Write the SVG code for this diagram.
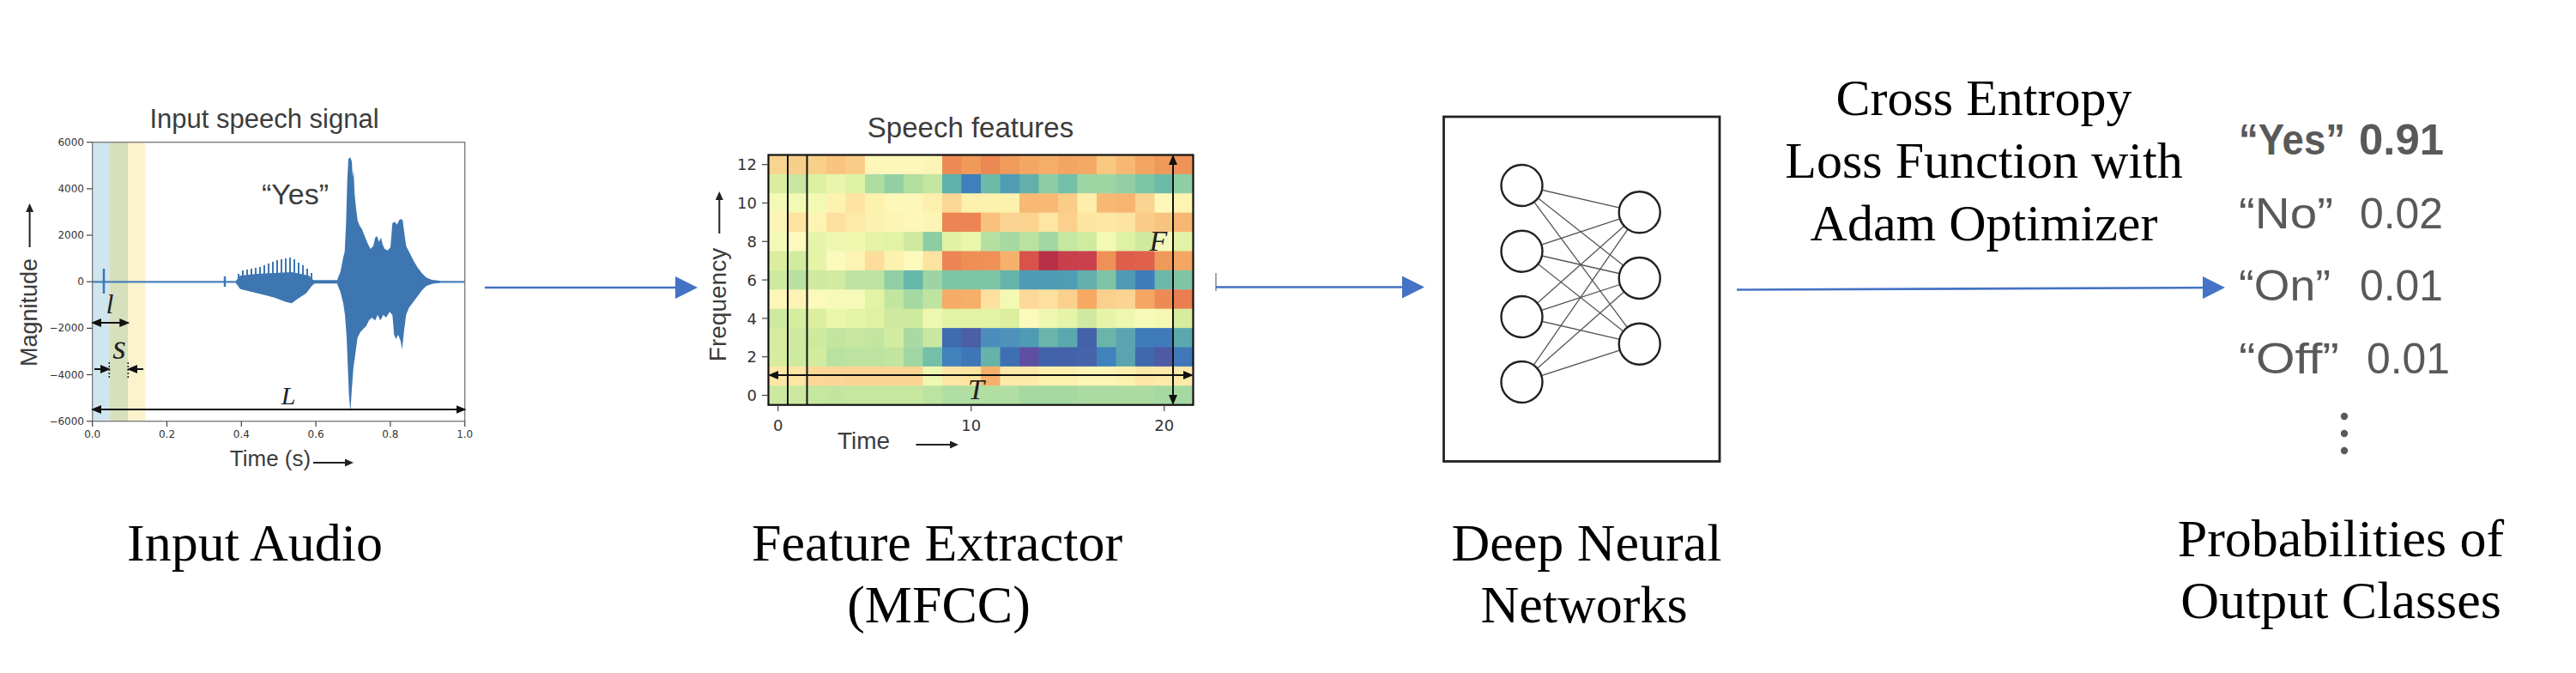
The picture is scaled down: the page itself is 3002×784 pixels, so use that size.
<svg xmlns="http://www.w3.org/2000/svg" width="3002" height="784" viewBox="0 0 3002 784">
<style>
.sans{font-family:"Liberation Sans",Arial,sans-serif;fill:#3c3c3c}
.tick{font-family:"DejaVu Sans",sans-serif;fill:#333}
.serif{font-family:"Liberation Serif","Times New Roman",serif;fill:#000}
.it{font-family:"Liberation Serif","Times New Roman",serif;font-style:italic;fill:#222}
.conn{stroke:#4472c4;stroke-width:2.6;fill:none}
.dim{stroke:#111;stroke-width:2;fill:none}
.axarrow{stroke:#222;stroke-width:2;fill:none}
.tk{stroke:#444;stroke-width:1.2}
.neuron{fill:#fff;stroke:#222;stroke-width:2.4}
.edge{stroke:#555;stroke-width:1.3}
.out{font-family:"Liberation Sans",Arial,sans-serif;font-size:50px;fill:#595959}
.label{font-family:"Liberation Serif","Times New Roman",serif;font-size:62px;fill:#000;text-anchor:middle}
</style>
<defs>
<marker id="blueHead" viewBox="0 0 26 26" markerUnits="userSpaceOnUse" markerWidth="26" markerHeight="26" refX="21" refY="13" orient="auto"><path d="M0,0 L26,13 L0,26 z" fill="#4472c4"/></marker>
<marker id="blackHead" viewBox="0 0 12 10" markerUnits="userSpaceOnUse" markerWidth="12" markerHeight="10" refX="10" refY="5" orient="auto-start-reverse"><path d="M0,0 L12,5 L0,10 z" fill="#111"/></marker>
<marker id="axHead" viewBox="0 0 10 9" markerUnits="userSpaceOnUse" markerWidth="10" markerHeight="9" refX="8" refY="4.5" orient="auto"><path d="M0,0 L10,4.5 L0,9 z" fill="#222"/></marker>
<clipPath id="hmClip"><rect x="895.5" y="180.5" width="495" height="291.2"/></clipPath>
</defs>
<rect width="3002" height="784" fill="#fff"/>

<g id="input-audio">
  <text class="sans" x="308" y="149" font-size="31" text-anchor="middle">Input speech signal</text>
  <rect x="107.7" y="165.7" width="19.6" height="325" fill="#cfe6ef"/>
  <rect x="127.3" y="165.7" width="22" height="325" fill="#d7dfbc"/>
  <rect x="149.3" y="165.7" width="20" height="325" fill="#fcf2cc"/>
  <g fill="#3d76b0" stroke="none">
    <line x1="107.7" y1="328.3" x2="541.7" y2="328.3" stroke="#4a80b8" stroke-width="2.2"/>
    <line x1="365" y1="328.3" x2="395" y2="328.3" stroke="#3d76b0" stroke-width="4"/>
    <line x1="121" y1="313" x2="121" y2="342" stroke="#3d76b0" stroke-width="2.5"/>
    <line x1="262" y1="322" x2="262" y2="334" stroke="#3d76b0" stroke-width="2.5"/>
    <polygon points="275,327 280,321 300,319 340,317 360,321 366,327 366.7,330 363.3,333.3 356.7,341.7 346.7,348.3 340,353.3 333.3,351.7 320,346.7 306.7,343.3 293.3,340 280,336.7 275,330"/>
    <path stroke="#3d76b0" stroke-width="2" d="M278,328V319 M283,328V315 M288,328V314 M293,328V313 M298,328V312 M303,328V311 M308,328V309 M313,328V307 M318,328V305 M323,328V303 M328,328V302 M333,328V301 M338,328V300 M343,328V302 M348,328V306 M353,328V309 M358,328V313 M363,328V318"/>
    <polygon points="393.3,325 396.7,316.7 400,300 401.7,293.3 403.3,260 404.7,210 406,185 408.3,183.3 410,188.3 411,206.7 412,198.3 413.3,226.7 415,243.3 416.7,256.7 419.3,263.3 421.7,266.7 425,275 428.3,283.3 431.7,290 435,286.7 437.3,276.7 439.3,275 441.7,281.7 444,276.7 446,285 448.3,290 451.7,291.7 455,288.3 457.3,260 460,258.3 462.7,261.7 465,256.7 467.3,255 469.3,256.7 471,270 473.3,286.7 476.7,293.3 481.7,303.3 486.7,311.7 491.7,318.3 496.7,323.3 503.3,326 513.3,327.3 513.3,329.3 503.3,330.7 496.7,333.3 491.7,338.3 486.7,345 481.7,351.7 476.7,358.3 473.3,366.7 470.7,386.7 468.7,406.7 466.7,396.7 464,390 461.3,395 459.3,390 457.3,366.7 454,363.3 450,370 446.7,366.7 443.3,373.3 440,366.7 437.3,373.3 433.3,370 430,373.3 426.7,380 423.3,383.3 420,386.7 416.7,393.3 414,413.3 412,426.7 410,453.3 408.3,480 406.7,460 405.3,426.7 404,393.3 402,366.7 400,353.3 396.7,340 393.3,331.7"/>
  </g>
  <rect x="107.7" y="165.7" width="434" height="325" fill="none" stroke="#777" stroke-width="1.3"/>
  <g class="tk">
    <line x1="101" y1="165.7" x2="107.7" y2="165.7"/><line x1="101" y1="219.9" x2="107.7" y2="219.9"/><line x1="101" y1="274" x2="107.7" y2="274"/><line x1="101" y1="328.2" x2="107.7" y2="328.2"/><line x1="101" y1="382.4" x2="107.7" y2="382.4"/><line x1="101" y1="436.5" x2="107.7" y2="436.5"/><line x1="101" y1="490.7" x2="107.7" y2="490.7"/>
    <line x1="107.7" y1="490.7" x2="107.7" y2="497"/><line x1="194.5" y1="490.7" x2="194.5" y2="497"/><line x1="281.3" y1="490.7" x2="281.3" y2="497"/><line x1="368.1" y1="490.7" x2="368.1" y2="497"/><line x1="454.9" y1="490.7" x2="454.9" y2="497"/><line x1="541.7" y1="490.7" x2="541.7" y2="497"/>
  </g>
  <g class="tick" font-size="12" text-anchor="end">
    <text x="98" y="170">6000</text><text x="98" y="224">4000</text><text x="98" y="278">2000</text><text x="98" y="332">0</text><text x="98" y="386">−2000</text><text x="98" y="441">−4000</text><text x="98" y="495">−6000</text>
  </g>
  <g class="tick" font-size="12" text-anchor="middle">
    <text x="107.7" y="510">0.0</text><text x="194.5" y="510">0.2</text><text x="281.3" y="510">0.4</text><text x="368.1" y="510">0.6</text><text x="454.9" y="510">0.8</text><text x="541.7" y="510">1.0</text>
  </g>
  <text class="sans" transform="translate(43,364) rotate(-90)" font-size="27" text-anchor="middle">Magnitude</text>
  <line class="axarrow" x1="34.6" y1="288" x2="34.6" y2="239" marker-end="url(#axHead)"/>
  <text class="sans" x="315" y="543" font-size="26" text-anchor="middle">Time (s)</text>
  <line class="axarrow" x1="365" y1="539" x2="410" y2="539" marker-end="url(#axHead)"/>
  <text class="sans" x="344" y="238" font-size="34" fill="#333" text-anchor="middle">“Yes”</text>
  <text class="it" x="128" y="365" font-size="32" text-anchor="middle">l</text>
  <line class="dim" x1="108" y1="376" x2="149.3" y2="376" marker-start="url(#blackHead)" marker-end="url(#blackHead)"/>
  <text class="it" x="139" y="418" font-size="40" text-anchor="middle">s</text>
  <line class="dim" x1="110" y1="430" x2="127" y2="430" marker-end="url(#blackHead)"/>
  <line class="dim" x1="167" y1="430" x2="150" y2="430" marker-end="url(#blackHead)"/>
  <line x1="127.3" y1="422" x2="127.3" y2="440" stroke="#222" stroke-width="1.5" stroke-dasharray="2,2"/>
  <line x1="149.3" y1="422" x2="149.3" y2="440" stroke="#222" stroke-width="1.5" stroke-dasharray="2,2"/>
  <text class="it" x="336" y="471" font-size="30" text-anchor="middle">L</text>
  <line class="dim" x1="108" y1="477" x2="541.5" y2="477" marker-start="url(#blackHead)" marker-end="url(#blackHead)"/>
  <text class="label" x="297" y="653">Input Audio</text>
</g>

<g id="feature-extractor">
  <text class="sans" x="1131" y="160" font-size="33" text-anchor="middle">Speech features</text>
  <g clip-path="url(#hmClip)">
   <g transform="translate(0,180.5)"><rect x="895.5" width="23" height="22.9" fill="#f9d48f"/><rect x="918" width="23" height="22.9" fill="#f8cf88"/><rect x="940.5" width="23" height="22.9" fill="#f9d08a"/><rect x="963" width="23" height="22.9" fill="#f8c47e"/><rect x="985.5" width="23" height="22.9" fill="#f9cd88"/><rect x="1008" width="23" height="22.9" fill="#fdf6b8"/><rect x="1030.5" width="23" height="22.9" fill="#fdf7ba"/><rect x="1053" width="23" height="22.9" fill="#fdf7ba"/><rect x="1075.5" width="23" height="22.9" fill="#fdf5b5"/><rect x="1098" width="23" height="22.9" fill="#ee8b55"/><rect x="1120.5" width="23" height="22.9" fill="#f09a5a"/><rect x="1143" width="23" height="22.9" fill="#ec8853"/><rect x="1165.5" width="23" height="22.9" fill="#f09b5c"/><rect x="1188" width="23" height="22.9" fill="#f4a762"/><rect x="1210.5" width="23" height="22.9" fill="#f5ad67"/><rect x="1233" width="23" height="22.9" fill="#f3a662"/><rect x="1255.5" width="23" height="22.9" fill="#f4a964"/><rect x="1278" width="23" height="22.9" fill="#f9c981"/><rect x="1300.5" width="23" height="22.9" fill="#f7b872"/><rect x="1323" width="23" height="22.9" fill="#f3a562"/><rect x="1345.5" width="23" height="22.9" fill="#f09a5a"/><rect x="1368" width="23" height="22.9" fill="#ef935a"/></g>
   <g transform="translate(0,202.9)"><rect x="895.5" width="23" height="22.9" fill="#dbeea0"/><rect x="918" width="23" height="22.9" fill="#c8e6a0"/><rect x="940.5" width="23" height="22.9" fill="#dcf0a2"/><rect x="963" width="23" height="22.9" fill="#e9f5ad"/><rect x="985.5" width="23" height="22.9" fill="#e0f2a6"/><rect x="1008" width="23" height="22.9" fill="#aedda2"/><rect x="1030.5" width="23" height="22.9" fill="#92d0a4"/><rect x="1053" width="23" height="22.9" fill="#b3dfa1"/><rect x="1075.5" width="23" height="22.9" fill="#c4e6a0"/><rect x="1098" width="23" height="22.9" fill="#5fb1ab"/><rect x="1120.5" width="23" height="22.9" fill="#3f7fbb"/><rect x="1143" width="23" height="22.9" fill="#6cbaa8"/><rect x="1165.5" width="23" height="22.9" fill="#4f9db5"/><rect x="1188" width="23" height="22.9" fill="#62afab"/><rect x="1210.5" width="23" height="22.9" fill="#8ccda4"/><rect x="1233" width="23" height="22.9" fill="#74bfa7"/><rect x="1255.5" width="23" height="22.9" fill="#9ed6a3"/><rect x="1278" width="23" height="22.9" fill="#9ed6a3"/><rect x="1300.5" width="23" height="22.9" fill="#92d0a4"/><rect x="1323" width="23" height="22.9" fill="#7ec5a5"/><rect x="1345.5" width="23" height="22.9" fill="#6cbaa8"/><rect x="1368" width="23" height="22.9" fill="#90cfa4"/></g>
   <g transform="translate(0,225.3)"><rect x="895.5" width="23" height="22.9" fill="#f4f9b5"/><rect x="918" width="23" height="22.9" fill="#f2f9b3"/><rect x="940.5" width="23" height="22.9" fill="#f3f9b3"/><rect x="963" width="23" height="22.9" fill="#fdf2b0"/><rect x="985.5" width="23" height="22.9" fill="#fde4a0"/><rect x="1008" width="23" height="22.9" fill="#fdf1ae"/><rect x="1030.5" width="23" height="22.9" fill="#fdf7ba"/><rect x="1053" width="23" height="22.9" fill="#fdf7ba"/><rect x="1075.5" width="23" height="22.9" fill="#fdf0ae"/><rect x="1098" width="23" height="22.9" fill="#fbd796"/><rect x="1120.5" width="23" height="22.9" fill="#fdf1ae"/><rect x="1143" width="23" height="22.9" fill="#fdf1ae"/><rect x="1165.5" width="23" height="22.9" fill="#fdf1ae"/><rect x="1188" width="23" height="22.9" fill="#f7b974"/><rect x="1210.5" width="23" height="22.9" fill="#f7b974"/><rect x="1233" width="23" height="22.9" fill="#f9cc87"/><rect x="1255.5" width="23" height="22.9" fill="#fdeeab"/><rect x="1278" width="23" height="22.9" fill="#f7b874"/><rect x="1300.5" width="23" height="22.9" fill="#f7b571"/><rect x="1323" width="23" height="22.9" fill="#fad390"/><rect x="1345.5" width="23" height="22.9" fill="#fdf7ba"/><rect x="1368" width="23" height="22.9" fill="#fdf3b3"/></g>
   <g transform="translate(0,247.7)"><rect x="895.5" width="23" height="22.9" fill="#fdf4b6"/><rect x="918" width="23" height="22.9" fill="#fde3a0"/><rect x="940.5" width="23" height="22.9" fill="#fdf3b3"/><rect x="963" width="23" height="22.9" fill="#fde0a0"/><rect x="985.5" width="23" height="22.9" fill="#fde9a8"/><rect x="1008" width="23" height="22.9" fill="#fdf1b2"/><rect x="1030.5" width="23" height="22.9" fill="#fdf5b5"/><rect x="1053" width="23" height="22.9" fill="#fdf7ba"/><rect x="1075.5" width="23" height="22.9" fill="#fdf5b5"/><rect x="1098" width="23" height="22.9" fill="#ec8553"/><rect x="1120.5" width="23" height="22.9" fill="#ec8553"/><rect x="1143" width="23" height="22.9" fill="#f8c17c"/><rect x="1165.5" width="23" height="22.9" fill="#fbd492"/><rect x="1188" width="23" height="22.9" fill="#fbd28e"/><rect x="1210.5" width="23" height="22.9" fill="#fde5a2"/><rect x="1233" width="23" height="22.9" fill="#fbd08d"/><rect x="1255.5" width="23" height="22.9" fill="#fde4a0"/><rect x="1278" width="23" height="22.9" fill="#fde7a4"/><rect x="1300.5" width="23" height="22.9" fill="#fde3a0"/><rect x="1323" width="23" height="22.9" fill="#f9cc88"/><rect x="1345.5" width="23" height="22.9" fill="#f8c480"/><rect x="1368" width="23" height="22.9" fill="#f7b673"/></g>
   <g transform="translate(0,270.1)"><rect x="895.5" width="23" height="22.9" fill="#f4f9b5"/><rect x="918" width="23" height="22.9" fill="#fbf9bb"/><rect x="940.5" width="23" height="22.9" fill="#e6f4a9"/><rect x="963" width="23" height="22.9" fill="#eef7b0"/><rect x="985.5" width="23" height="22.9" fill="#f0f8b0"/><rect x="1008" width="23" height="22.9" fill="#e6f4a9"/><rect x="1030.5" width="23" height="22.9" fill="#e2f3a5"/><rect x="1053" width="23" height="22.9" fill="#cfeaa0"/><rect x="1075.5" width="23" height="22.9" fill="#8ccda4"/><rect x="1098" width="23" height="22.9" fill="#e1f2a6"/><rect x="1120.5" width="23" height="22.9" fill="#eaf6ac"/><rect x="1143" width="23" height="22.9" fill="#b5e0a2"/><rect x="1165.5" width="23" height="22.9" fill="#a6d9a2"/><rect x="1188" width="23" height="22.9" fill="#b9e2a1"/><rect x="1210.5" width="23" height="22.9" fill="#a0d7a2"/><rect x="1233" width="23" height="22.9" fill="#c5e7a0"/><rect x="1255.5" width="23" height="22.9" fill="#cfeba0"/><rect x="1278" width="23" height="22.9" fill="#f2f9b3"/><rect x="1300.5" width="23" height="22.9" fill="#dff1a4"/><rect x="1323" width="23" height="22.9" fill="#cdea9f"/><rect x="1345.5" width="23" height="22.9" fill="#f5faba"/><rect x="1368" width="23" height="22.9" fill="#e2f3a5"/></g>
   <g transform="translate(0,292.5)"><rect x="895.5" width="23" height="22.9" fill="#dbeea0"/><rect x="918" width="23" height="22.9" fill="#d2ec9f"/><rect x="940.5" width="23" height="22.9" fill="#e6f4a9"/><rect x="963" width="23" height="22.9" fill="#fbf9bb"/><rect x="985.5" width="23" height="22.9" fill="#fdf3b3"/><rect x="1008" width="23" height="22.9" fill="#fcdd9a"/><rect x="1030.5" width="23" height="22.9" fill="#fdf1b0"/><rect x="1053" width="23" height="22.9" fill="#fdf9bc"/><rect x="1075.5" width="23" height="22.9" fill="#fde3a0"/><rect x="1098" width="23" height="22.9" fill="#ec8553"/><rect x="1120.5" width="23" height="22.9" fill="#ef8f56"/><rect x="1143" width="23" height="22.9" fill="#ef9157"/><rect x="1165.5" width="23" height="22.9" fill="#f6b26d"/><rect x="1188" width="23" height="22.9" fill="#d9534b"/><rect x="1210.5" width="23" height="22.9" fill="#b73048"/><rect x="1233" width="23" height="22.9" fill="#c9404d"/><rect x="1255.5" width="23" height="22.9" fill="#ca414d"/><rect x="1278" width="23" height="22.9" fill="#ef9157"/><rect x="1300.5" width="23" height="22.9" fill="#de5d4b"/><rect x="1323" width="23" height="22.9" fill="#df614c"/><rect x="1345.5" width="23" height="22.9" fill="#f09a5a"/><rect x="1368" width="23" height="22.9" fill="#f4a762"/></g>
   <g transform="translate(0,314.9)"><rect x="895.5" width="23" height="22.9" fill="#cdea9f"/><rect x="918" width="23" height="22.9" fill="#b8e1a1"/><rect x="940.5" width="23" height="22.9" fill="#cfeaa0"/><rect x="963" width="23" height="22.9" fill="#d1eba0"/><rect x="985.5" width="23" height="22.9" fill="#bee3a1"/><rect x="1008" width="23" height="22.9" fill="#bde3a1"/><rect x="1030.5" width="23" height="22.9" fill="#91cfa4"/><rect x="1053" width="23" height="22.9" fill="#67b7aa"/><rect x="1075.5" width="23" height="22.9" fill="#9cd5a3"/><rect x="1098" width="23" height="22.9" fill="#7ec5a5"/><rect x="1120.5" width="23" height="22.9" fill="#7ec5a5"/><rect x="1143" width="23" height="22.9" fill="#7ec5a5"/><rect x="1165.5" width="23" height="22.9" fill="#66b5aa"/><rect x="1188" width="23" height="22.9" fill="#4e9bb5"/><rect x="1210.5" width="23" height="22.9" fill="#4e9bb5"/><rect x="1233" width="23" height="22.9" fill="#4f9db5"/><rect x="1255.5" width="23" height="22.9" fill="#62afab"/><rect x="1278" width="23" height="22.9" fill="#7ec5a5"/><rect x="1300.5" width="23" height="22.9" fill="#4f9ab5"/><rect x="1323" width="23" height="22.9" fill="#3f7cbc"/><rect x="1345.5" width="23" height="22.9" fill="#6ab9a9"/><rect x="1368" width="23" height="22.9" fill="#7ec5a5"/></g>
   <g transform="translate(0,337.3)"><rect x="895.5" width="23" height="22.9" fill="#fdf6b8"/><rect x="918" width="23" height="22.9" fill="#fdf3b5"/><rect x="940.5" width="23" height="22.9" fill="#fbf9bb"/><rect x="963" width="23" height="22.9" fill="#f6fab9"/><rect x="985.5" width="23" height="22.9" fill="#f6fab9"/><rect x="1008" width="23" height="22.9" fill="#e2f3a5"/><rect x="1030.5" width="23" height="22.9" fill="#c2e5a0"/><rect x="1053" width="23" height="22.9" fill="#a6d9a2"/><rect x="1075.5" width="23" height="22.9" fill="#bfe4a1"/><rect x="1098" width="23" height="22.9" fill="#f6ab66"/><rect x="1120.5" width="23" height="22.9" fill="#f6ae69"/><rect x="1143" width="23" height="22.9" fill="#fde0a0"/><rect x="1165.5" width="23" height="22.9" fill="#f3f9b3"/><rect x="1188" width="23" height="22.9" fill="#fdd999"/><rect x="1210.5" width="23" height="22.9" fill="#fde09d"/><rect x="1233" width="23" height="22.9" fill="#fbd08d"/><rect x="1255.5" width="23" height="22.9" fill="#f7a863"/><rect x="1278" width="23" height="22.9" fill="#fbd08d"/><rect x="1300.5" width="23" height="22.9" fill="#fcd391"/><rect x="1323" width="23" height="22.9" fill="#f4a762"/><rect x="1345.5" width="23" height="22.9" fill="#ee8b55"/><rect x="1368" width="23" height="22.9" fill="#ea7e51"/></g>
   <g transform="translate(0,359.7)"><rect x="895.5" width="23" height="22.9" fill="#cdea9f"/><rect x="918" width="23" height="22.9" fill="#d4ed9f"/><rect x="940.5" width="23" height="22.9" fill="#dbef9f"/><rect x="963" width="23" height="22.9" fill="#ebf6ad"/><rect x="985.5" width="23" height="22.9" fill="#e6f4a9"/><rect x="1008" width="23" height="22.9" fill="#dff1a4"/><rect x="1030.5" width="23" height="22.9" fill="#cfeaa0"/><rect x="1053" width="23" height="22.9" fill="#cdea9f"/><rect x="1075.5" width="23" height="22.9" fill="#eef7b0"/><rect x="1098" width="23" height="22.9" fill="#e3f3a6"/><rect x="1120.5" width="23" height="22.9" fill="#e3f3a6"/><rect x="1143" width="23" height="22.9" fill="#e3f3a6"/><rect x="1165.5" width="23" height="22.9" fill="#dbef9f"/><rect x="1188" width="23" height="22.9" fill="#fbf9bb"/><rect x="1210.5" width="23" height="22.9" fill="#eef7b0"/><rect x="1233" width="23" height="22.9" fill="#e6f4a9"/><rect x="1255.5" width="23" height="22.9" fill="#cfeaa0"/><rect x="1278" width="23" height="22.9" fill="#e6f4a9"/><rect x="1300.5" width="23" height="22.9" fill="#eef7b0"/><rect x="1323" width="23" height="22.9" fill="#f6fab9"/><rect x="1345.5" width="23" height="22.9" fill="#f3f9b3"/><rect x="1368" width="23" height="22.9" fill="#d6ed9f"/></g>
   <g transform="translate(0,382.1)"><rect x="895.5" width="23" height="22.9" fill="#d6ed9f"/><rect x="918" width="23" height="22.9" fill="#cfeaa0"/><rect x="940.5" width="23" height="22.9" fill="#cdea9f"/><rect x="963" width="23" height="22.9" fill="#c2e5a0"/><rect x="985.5" width="23" height="22.9" fill="#c8e7a0"/><rect x="1008" width="23" height="22.9" fill="#c2e5a0"/><rect x="1030.5" width="23" height="22.9" fill="#d2ec9f"/><rect x="1053" width="23" height="22.9" fill="#a9daa2"/><rect x="1075.5" width="23" height="22.9" fill="#c8e7a0"/><rect x="1098" width="23" height="22.9" fill="#3f6bb0"/><rect x="1120.5" width="23" height="22.9" fill="#4b5ea6"/><rect x="1143" width="23" height="22.9" fill="#4b8ebd"/><rect x="1165.5" width="23" height="22.9" fill="#4e92bb"/><rect x="1188" width="23" height="22.9" fill="#4e9bb5"/><rect x="1210.5" width="23" height="22.9" fill="#6ab4aa"/><rect x="1233" width="23" height="22.9" fill="#5aa8ae"/><rect x="1255.5" width="23" height="22.9" fill="#4462aa"/><rect x="1278" width="23" height="22.9" fill="#6ab4aa"/><rect x="1300.5" width="23" height="22.9" fill="#5ca3b2"/><rect x="1323" width="23" height="22.9" fill="#3f7bbb"/><rect x="1345.5" width="23" height="22.9" fill="#3f7bbb"/><rect x="1368" width="23" height="22.9" fill="#5aa8ae"/></g>
   <g transform="translate(0,404.5)"><rect x="895.5" width="23" height="22.9" fill="#d6ed9f"/><rect x="918" width="23" height="22.9" fill="#cdea9f"/><rect x="940.5" width="23" height="22.9" fill="#d2ec9f"/><rect x="963" width="23" height="22.9" fill="#b9e2a1"/><rect x="985.5" width="23" height="22.9" fill="#bde3a1"/><rect x="1008" width="23" height="22.9" fill="#bde3a1"/><rect x="1030.5" width="23" height="22.9" fill="#c2e5a0"/><rect x="1053" width="23" height="22.9" fill="#9fd6a3"/><rect x="1075.5" width="23" height="22.9" fill="#73bfa7"/><rect x="1098" width="23" height="22.9" fill="#4182bd"/><rect x="1120.5" width="23" height="22.9" fill="#3f76b8"/><rect x="1143" width="23" height="22.9" fill="#66b3aa"/><rect x="1165.5" width="23" height="22.9" fill="#3f6fb3"/><rect x="1188" width="23" height="22.9" fill="#5e4fa2"/><rect x="1210.5" width="23" height="22.9" fill="#4262ab"/><rect x="1233" width="23" height="22.9" fill="#4462aa"/><rect x="1255.5" width="23" height="22.9" fill="#4664aa"/><rect x="1278" width="23" height="22.9" fill="#3f82bc"/><rect x="1300.5" width="23" height="22.9" fill="#5aa4b0"/><rect x="1323" width="23" height="22.9" fill="#4068ae"/><rect x="1345.5" width="23" height="22.9" fill="#4d5aa4"/><rect x="1368" width="23" height="22.9" fill="#3f77b8"/></g>
   <g transform="translate(0,426.9)"><rect x="895.5" width="23" height="22.9" fill="#fde7a6"/><rect x="918" width="23" height="22.9" fill="#fde5a4"/><rect x="940.5" width="23" height="22.9" fill="#fdd798"/><rect x="963" width="23" height="22.9" fill="#fdd596"/><rect x="985.5" width="23" height="22.9" fill="#fbd494"/><rect x="1008" width="23" height="22.9" fill="#fbd494"/><rect x="1030.5" width="23" height="22.9" fill="#fbd494"/><rect x="1053" width="23" height="22.9" fill="#fbd494"/><rect x="1075.5" width="23" height="22.9" fill="#eef7b0"/><rect x="1098" width="23" height="22.9" fill="#fde5a4"/><rect x="1120.5" width="23" height="22.9" fill="#fde3a0"/><rect x="1143" width="23" height="22.9" fill="#f6b06d"/><rect x="1165.5" width="23" height="22.9" fill="#fde9aa"/><rect x="1188" width="23" height="22.9" fill="#fde9aa"/><rect x="1210.5" width="23" height="22.9" fill="#fdf0ae"/><rect x="1233" width="23" height="22.9" fill="#fdf0ae"/><rect x="1255.5" width="23" height="22.9" fill="#fdf5b5"/><rect x="1278" width="23" height="22.9" fill="#fdf5b5"/><rect x="1300.5" width="23" height="22.9" fill="#fdf0ae"/><rect x="1323" width="23" height="22.9" fill="#fde7a6"/><rect x="1345.5" width="23" height="22.9" fill="#fde9aa"/><rect x="1368" width="23" height="22.9" fill="#fde9aa"/></g>
   <g transform="translate(0,449.3)"><rect x="895.5" width="23" height="22.9" fill="#cbe9a0"/><rect x="918" width="23" height="22.9" fill="#cbe9a0"/><rect x="940.5" width="23" height="22.9" fill="#c5e7a0"/><rect x="963" width="23" height="22.9" fill="#c2e5a0"/><rect x="985.5" width="23" height="22.9" fill="#c5e7a0"/><rect x="1008" width="23" height="22.9" fill="#c5e7a0"/><rect x="1030.5" width="23" height="22.9" fill="#c5e7a0"/><rect x="1053" width="23" height="22.9" fill="#c5e7a0"/><rect x="1075.5" width="23" height="22.9" fill="#bde3a1"/><rect x="1098" width="23" height="22.9" fill="#b1dea2"/><rect x="1120.5" width="23" height="22.9" fill="#b1dea2"/><rect x="1143" width="23" height="22.9" fill="#b1dea2"/><rect x="1165.5" width="23" height="22.9" fill="#b1dea2"/><rect x="1188" width="23" height="22.9" fill="#a6d9a2"/><rect x="1210.5" width="23" height="22.9" fill="#a6d9a2"/><rect x="1233" width="23" height="22.9" fill="#a6d9a2"/><rect x="1255.5" width="23" height="22.9" fill="#acdba2"/><rect x="1278" width="23" height="22.9" fill="#acdba2"/><rect x="1300.5" width="23" height="22.9" fill="#acdba2"/><rect x="1323" width="23" height="22.9" fill="#acdba2"/><rect x="1345.5" width="23" height="22.9" fill="#a6d9a2"/><rect x="1368" width="23" height="22.9" fill="#a6d9a2"/></g>
  </g>
  <rect x="895.5" y="180.5" width="495" height="291.2" fill="none" stroke="#111" stroke-width="2.2"/>
  <line x1="918" y1="180.5" x2="918" y2="471.7" stroke="#111" stroke-width="2"/>
  <line x1="940.5" y1="180.5" x2="940.5" y2="471.7" stroke="#111" stroke-width="2"/>
  <line class="dim" x1="897" y1="437" x2="1389" y2="437" marker-start="url(#blackHead)" marker-end="url(#blackHead)"/>
  <line class="dim" x1="1367" y1="182" x2="1367" y2="470" marker-start="url(#blackHead)" marker-end="url(#blackHead)"/>
  <text class="it" x="1137.5" y="465" font-size="34" text-anchor="middle">T</text>
  <text class="it" x="1350" y="292" font-size="34" text-anchor="middle">F</text>
  <g class="tk">
    <line x1="888" y1="191.7" x2="895.5" y2="191.7"/><line x1="888" y1="236.5" x2="895.5" y2="236.5"/><line x1="888" y1="281.3" x2="895.5" y2="281.3"/><line x1="888" y1="326.1" x2="895.5" y2="326.1"/><line x1="888" y1="370.9" x2="895.5" y2="370.9"/><line x1="888" y1="415.7" x2="895.5" y2="415.7"/><line x1="888" y1="460.5" x2="895.5" y2="460.5"/>
    <line x1="906.75" y1="471.7" x2="906.75" y2="479"/><line x1="1131.75" y1="471.7" x2="1131.75" y2="479"/><line x1="1356.75" y1="471.7" x2="1356.75" y2="479"/>
  </g>
  <g class="tick" font-size="18" text-anchor="end">
    <text x="882" y="198">12</text><text x="882" y="243">10</text><text x="882" y="288">8</text><text x="882" y="332.5">6</text><text x="882" y="377.5">4</text><text x="882" y="422">2</text><text x="882" y="467">0</text>
  </g>
  <g class="tick" font-size="18" text-anchor="middle">
    <text x="906.75" y="502">0</text><text x="1131.75" y="502">10</text><text x="1356.75" y="502">20</text>
  </g>
  <text class="sans" transform="translate(846,355) rotate(-90)" font-size="28" text-anchor="middle">Frequency</text>
  <line class="axarrow" x1="838.3" y1="272" x2="838.3" y2="225" marker-end="url(#axHead)"/>
  <text class="sans" x="976" y="523" font-size="28">Time</text>
  <line class="axarrow" x1="1067.5" y1="518" x2="1115" y2="518" marker-end="url(#axHead)"/>
  <text class="label" x="1092" y="653">Feature Extractor</text>
  <text class="label" x="1094" y="725">(MFCC)</text>
</g>

<g id="dnn">
  <rect x="1682.5" y="136" width="321.5" height="401.5" fill="#fff" stroke="#222" stroke-width="2.8"/>
  <g class="edge">
    <line x1="1773.5" y1="216" x2="1910.7" y2="247.3"/><line x1="1773.5" y1="216" x2="1910.7" y2="324"/><line x1="1773.5" y1="216" x2="1910.7" y2="400.7"/>
    <line x1="1773.5" y1="292.7" x2="1910.7" y2="247.3"/><line x1="1773.5" y1="292.7" x2="1910.7" y2="324"/><line x1="1773.5" y1="292.7" x2="1910.7" y2="400.7"/>
    <line x1="1773.5" y1="369" x2="1910.7" y2="247.3"/><line x1="1773.5" y1="369" x2="1910.7" y2="324"/><line x1="1773.5" y1="369" x2="1910.7" y2="400.7"/>
    <line x1="1773.5" y1="445" x2="1910.7" y2="247.3"/><line x1="1773.5" y1="445" x2="1910.7" y2="324"/><line x1="1773.5" y1="445" x2="1910.7" y2="400.7"/>
  </g>
  <circle class="neuron" cx="1773.5" cy="216" r="24"/>
  <circle class="neuron" cx="1773.5" cy="292.7" r="24"/>
  <circle class="neuron" cx="1773.5" cy="369" r="24"/>
  <circle class="neuron" cx="1773.5" cy="445" r="24"/>
  <circle class="neuron" cx="1910.7" cy="247.3" r="24"/>
  <circle class="neuron" cx="1910.7" cy="324" r="24"/>
  <circle class="neuron" cx="1910.7" cy="400.7" r="24"/>
  <text class="label" x="1849" y="653">Deep Neural</text>
  <text class="label" x="1846" y="725">Networks</text>
</g>

<g id="output-classes">
  <text class="out" x="2609" y="180" font-weight="bold" fill="#3b3b3b" textLength="124" lengthAdjust="spacingAndGlyphs">“Yes”</text>
  <text class="out" x="2749" y="180" font-weight="bold" fill="#3b3b3b" textLength="99" lengthAdjust="spacingAndGlyphs">0.91</text>
  <text class="out" x="2609" y="265.7" textLength="110" lengthAdjust="spacingAndGlyphs">“No”</text>
  <text class="out" x="2750" y="265.7" textLength="97" lengthAdjust="spacingAndGlyphs">0.02</text>
  <text class="out" x="2609" y="350" textLength="107" lengthAdjust="spacingAndGlyphs">“On”</text>
  <text class="out" x="2750" y="350" textLength="97" lengthAdjust="spacingAndGlyphs">0.01</text>
  <text class="out" x="2609" y="435" textLength="117" lengthAdjust="spacingAndGlyphs">“Off”</text>
  <text class="out" x="2758" y="435" textLength="97" lengthAdjust="spacingAndGlyphs">0.01</text>
  <circle cx="2732" cy="485" r="4.2" fill="#595959"/>
  <circle cx="2732" cy="505" r="4.2" fill="#595959"/>
  <circle cx="2732" cy="525" r="4.2" fill="#595959"/>
  <text class="label" x="2728" y="648">Probabilities of</text>
  <text class="label" x="2728" y="720">Output Classes</text>
</g>

<g id="connectors">
  <line class="conn" x1="565" y1="335" x2="808" y2="335" marker-end="url(#blueHead)"/>
  <line x1="1417" y1="318" x2="1417" y2="339" stroke="#888" stroke-width="1.5"/>
  <line class="conn" x1="1417" y1="334.5" x2="1655" y2="334.5" marker-end="url(#blueHead)"/>
  <line class="conn" x1="2024" y1="337.5" x2="2588" y2="335" marker-end="url(#blueHead)"/>
  <g class="serif" font-size="60" text-anchor="middle">
    <text x="2312" y="134">Cross Entropy</text>
    <text x="2312" y="207">Loss Function with</text>
    <text x="2312" y="280">Adam Optimizer</text>
  </g>
</g>
</svg>
